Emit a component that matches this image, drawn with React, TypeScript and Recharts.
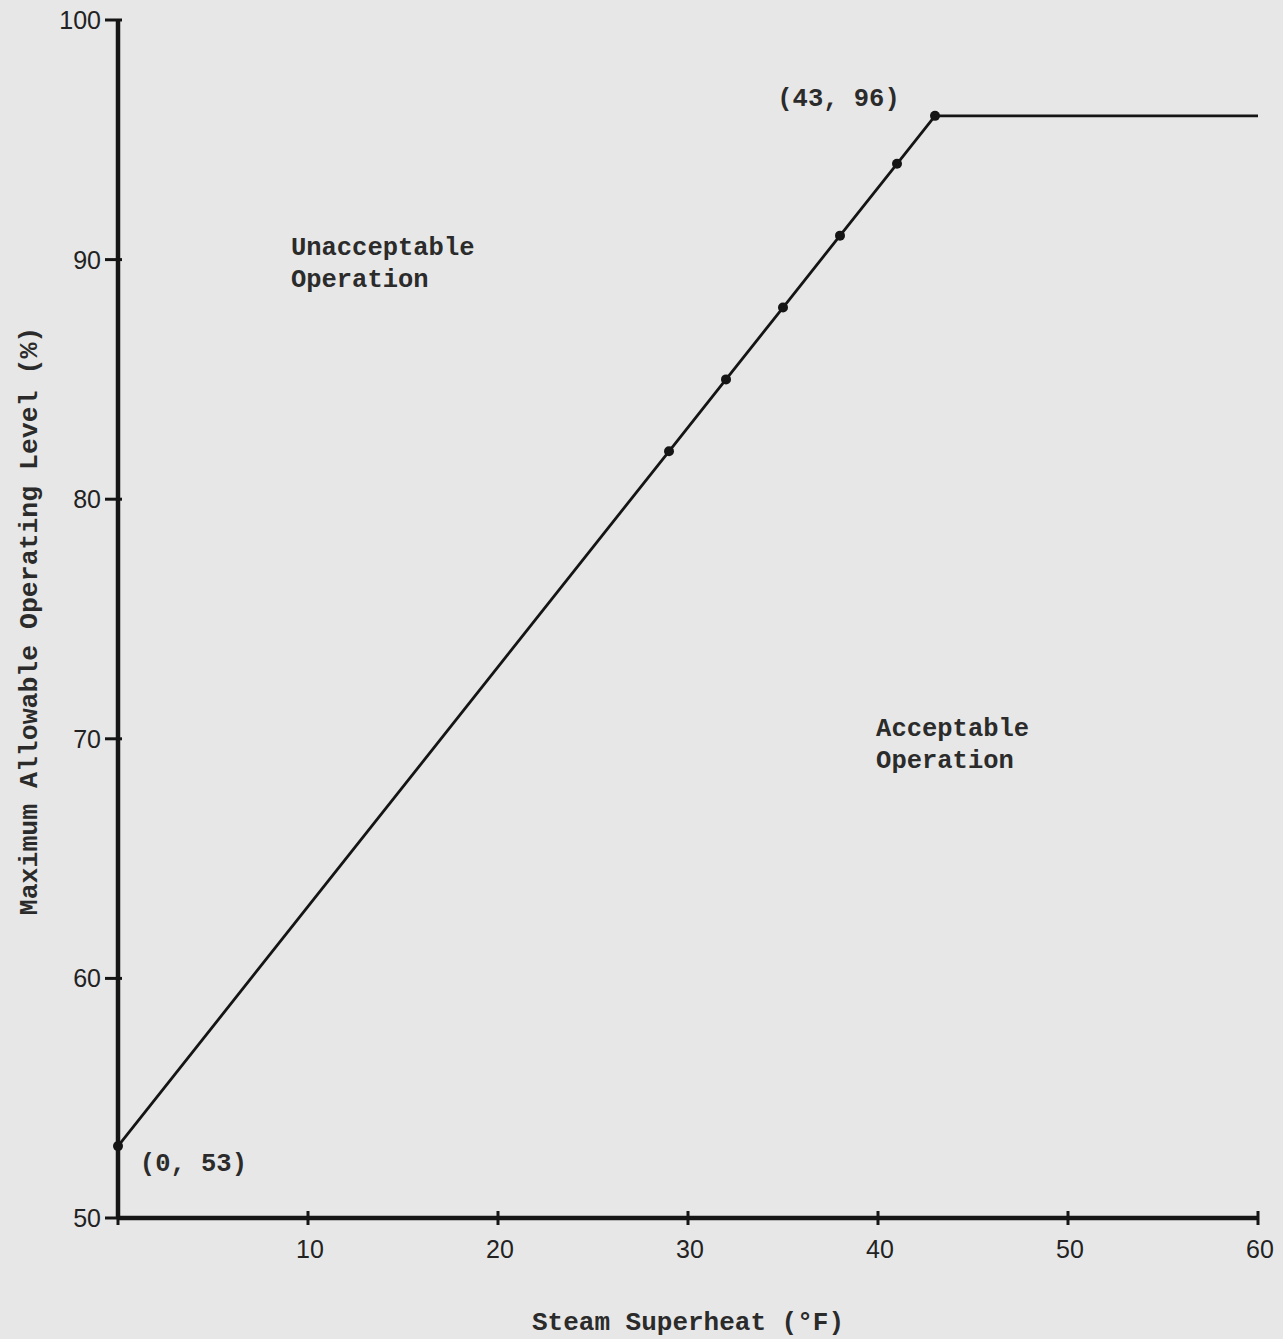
import React from 'react'
import { ComposedChart, Line, Scatter, XAxis, YAxis, ReferenceDot } from 'recharts'

// limit curve: steam superheat (°F) vs max allowable operating level (%)
const superheat = [0, 29, 32, 35, 38, 41, 43, 60]
const level = [53, 82, 85, 88, 91, 94, 96, 96]

// the points marked with a dot on the curve
const markedSuperheat = [0, 29, 32, 35, 38, 41, 43]
const markedLevel = [53, 82, 85, 88, 91, 94, 96]

const xTicks = [0, 10, 20, 30, 40, 50, 60]
const yTicks = [50, 60, 70, 80, 90, 100]

// annotations: [x, y, lines]
const notes: Array<{ x: number; y: number; lines: string[] }> = [
  { x: 1.15, y: 51.95, lines: ['(0, 53)'] },
  { x: 34.7, y: 96.4, lines: ['(43, 96)'] },
  { x: 9.1, y: 90.2, lines: ['Unacceptable', 'Operation'] },
  { x: 39.9, y: 70.1, lines: ['Acceptable', 'Operation'] },
]

const curve = superheat.map((x, i) => ({ x, y: level[i] }))
const marked = markedSuperheat.map((x, i) => ({ x, y: markedLevel[i] }))

const INK = '#151515'
const TYPE = '"Liberation Mono", "DejaVu Sans Mono", monospace'
const NUM = '"Liberation Sans", Arial, sans-serif'

if (typeof document !== 'undefined') {
  document.body.style.margin = '0'
}

const YTick = (props: any) => {
  const { x, y, payload } = props
  return (
    <g>
      <line x1={x - 13} x2={x + 4} y1={y} y2={y} stroke={INK} strokeWidth={3} />
      <text x={x - 17} y={y + 9} textAnchor="end" fontFamily={NUM} fontSize={25} fill="#222">
        {payload.value}
      </text>
    </g>
  )
}

const XTick = (props: any) => {
  const { x, y, payload } = props
  return (
    <g>
      <line x1={x} x2={x} y1={y - 7} y2={y + 7} stroke={INK} strokeWidth={3} />
      {payload.value !== 0 && (
        <text x={x + 2} y={y + 40} textAnchor="middle" fontFamily={NUM} fontSize={25} fill="#222">
          {payload.value}
        </text>
      )}
    </g>
  )
}

const Dot = (props: any) => <circle cx={props.cx} cy={props.cy} r={5} fill={INK} />

const noteLabel = (lines: string[]) => (props: any) => {
  const { viewBox } = props
  const x = viewBox.x + (viewBox.width || 0) / 2
  const y = viewBox.y + (viewBox.height || 0) / 2
  return (
    <text x={x} y={y} fontFamily={TYPE} fontWeight="bold" fontSize={25.5} fill="#2b2b2b">
      {lines.map((l, i) => (
        <tspan key={i} x={x} dy={i === 0 ? 0 : 32}>
          {l}
        </tspan>
      ))}
    </text>
  )
}

export default function App() {
  return (
    <div style={{ width: 1283, height: 1339, background: '#e7e7e7' }}>
      <ComposedChart
        width={1283}
        height={1339}
        data={curve}
        margin={{ top: 20, right: 25, bottom: 0, left: 0 }}
      >
        <XAxis
          dataKey="x"
          type="number"
          domain={[0, 60]}
          ticks={xTicks}
          height={121}
          tickSize={0}
          tickMargin={0}
          tick={<XTick />}
          axisLine={{ stroke: INK, strokeWidth: 4.5 }}
          tickLine={false}
          label={{
            content: (p: any) => {
              const vb = p.viewBox
              return (
                <text
                  x={vb.x + vb.width / 2}
                  y={vb.y + 112}
                  textAnchor="middle"
                  fontFamily={TYPE}
                  fontWeight="bold"
                  fontSize={26}
                  fill="#2b2b2b"
                >
                  Steam Superheat (°F)
                </text>
              )
            },
          }}
        />
        <YAxis
          type="number"
          domain={[50, 100]}
          ticks={yTicks}
          width={118}
          tickSize={0}
          tickMargin={0}
          tick={<YTick />}
          axisLine={{ stroke: INK, strokeWidth: 4.5 }}
          tickLine={false}
          label={{
            content: (p: any) => {
              const vb = p.viewBox
              const cx = vb.x + 37
              const cy = vb.y + vb.height / 2 + 2
              return (
                <text
                  x={cx}
                  y={cy}
                  transform={`rotate(-90 ${cx} ${cy})`}
                  textAnchor="middle"
                  fontFamily={TYPE}
                  fontWeight="bold"
                  fontSize={26.5}
                  fill="#2b2b2b"
                >
                  Maximum Allowable Operating Level (%)
                </text>
              )
            },
          }}
        />
        <Line
          dataKey="y"
          type="linear"
          stroke={INK}
          strokeWidth={2.8}
          dot={false}
          activeDot={false}
          isAnimationActive={false}
        />
        <Scatter data={marked} dataKey="y" fill={INK} shape={<Dot />} isAnimationActive={false} />
        {notes.map((n, i) => (
          <ReferenceDot
            key={i}
            x={n.x}
            y={n.y}
            r={0}
            fill="none"
            stroke="none"
            label={{ content: noteLabel(n.lines) }}
          />
        ))}
      </ComposedChart>
    </div>
  )
}
